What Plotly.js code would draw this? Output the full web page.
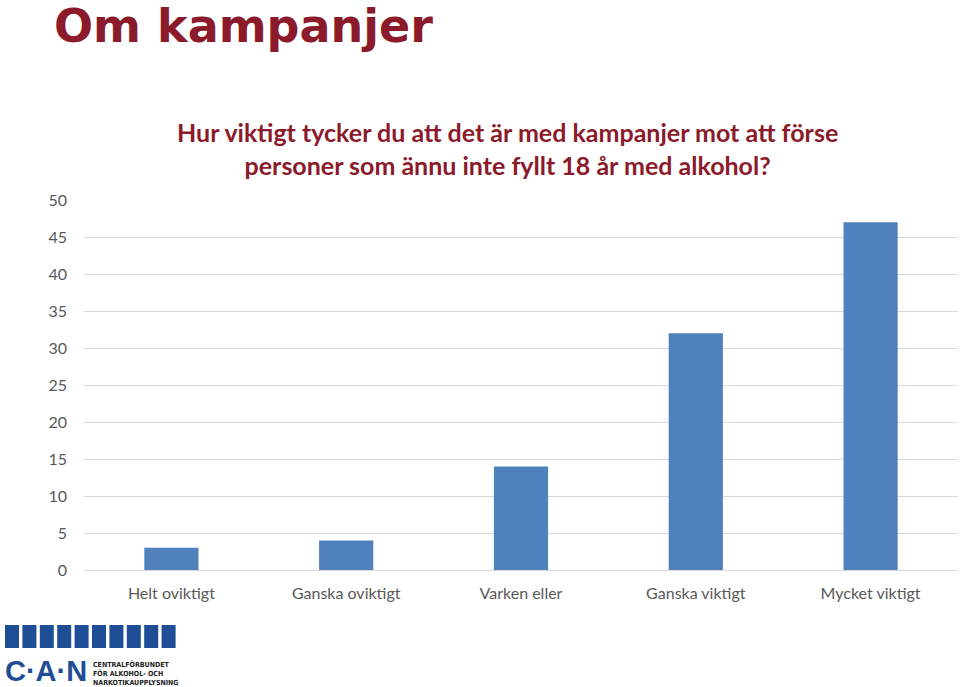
<!DOCTYPE html>
<html>
<head>
<meta charset="utf-8">
<script src="https://cdn.plot.ly/plotly-3.0.1.min.js"></script>
<style>html,body{margin:0;padding:0;background:#fff;}#chart{width:960px;height:687px;}</style>
</head>
<body>
<div id="chart"></div>
<script>
const categories = ["Helt oviktigt", "Ganska oviktigt", "Varken eller", "Ganska viktigt", "Mycket viktigt"];
const values = [3, 4, 14, 32, 47];
const yTicks = [0, 5, 10, 15, 20, 25, 30, 35, 40, 45, 50];
const mainTitle = "Om kampanjer";
const question = "Hur viktigt tycker du att det är med kampanjer mot att förse<br>personer som ännu inte fyllt 18 år med alkohol?";
const logoLines = "CENTRALFÖRBUNDET<br>FÖR ALKOHOL- OCH<br>NARKOTIKAUPPLYSNING";

const W = 960, H = 687;
const M = {l: 84, r: 2, t: 200, b: 117};
const pw = W - M.l - M.r, ph = H - M.t - M.b;
const px = x => (x - M.l) / pw;
const py = y => (H - M.b - y) / ph;

const logoBlue = "#1f4e96";
const shapes = [];
for (let i = 0; i < 10; i++) {
  const x0 = 5 + i * 17.4;
  shapes.push({type: "rect", xref: "paper", yref: "paper", x0: px(x0), x1: px(x0 + 14), y0: py(648), y1: py(625), fillcolor: logoBlue, line: {width: 0}, layer: "above"});
}

const trace = {
  type: "bar",
  x: categories,
  y: values,
  marker: {color: "#4f81bd"},
  hoverinfo: "skip"
};

const layout = {
  width: W, height: H,
  margin: M,
  paper_bgcolor: "#fff", plot_bgcolor: "#fff",
  showlegend: false,
  bargap: 0.69,
  title: {text: "<b>" + mainTitle + "</b>", x: 54 / W, xanchor: "left", y: 1 - 26 / H, yanchor: "middle",
          font: {family: "DejaVu Sans", size: 46, color: "#8b1a2b"}},
  xaxis: {tickfont: {family: "Lato", size: 16, color: "#595959"}, showline: false, ticks: "", ticklabelstandoff: 12, fixedrange: true},
  yaxis: {range: [0, 50], tickvals: yTicks, showgrid: true, gridcolor: "#d9d9d9", gridwidth: 1,
          zeroline: true, zerolinecolor: "#d9d9d9", zerolinewidth: 1,
          tickfont: {family: "Lato", size: 16, color: "#595959"}, ticks: "", ticklabelstandoff: 16, fixedrange: true},
  shapes: shapes,
  annotations: [
    {text: question, xref: "paper", yref: "paper", x: px(507), y: py(148), xanchor: "center", yanchor: "middle",
     showarrow: false, align: "center", font: {family: "Lato", size: 25, color: "#8b1a2b", weight: "bold"}},
    {text: "<b>C·A·N</b>", xref: "paper", yref: "paper", x: px(3), y: py(671), xanchor: "left", yanchor: "middle",
     showarrow: false, font: {family: "Liberation Sans", size: 29, color: logoBlue}},
    {text: logoLines, xref: "paper", yref: "paper", x: px(91), y: py(673), xanchor: "left", yanchor: "middle",
     showarrow: false, align: "left", font: {family: "DejaVu Sans Condensed", size: 7, color: "#222", weight: "bold"}}
  ]
};

Plotly.newPlot("chart", [trace], layout, {displayModeBar: false, staticPlot: true});
</script>
</body>
</html>
